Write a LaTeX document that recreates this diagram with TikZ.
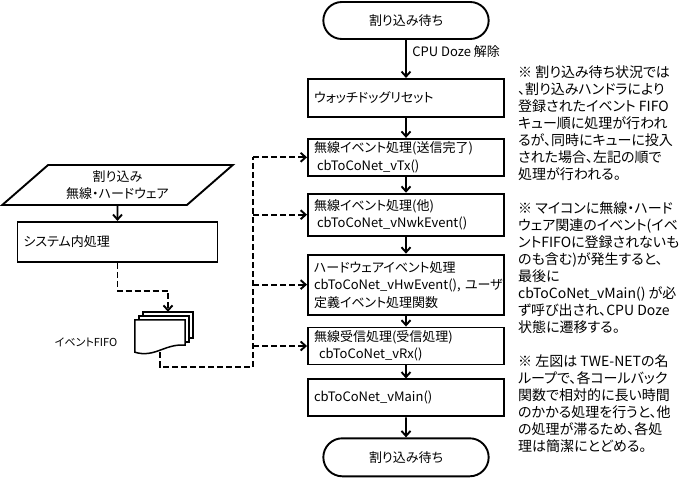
\documentclass[tikz,border=0pt]{standalone}
\usepackage{fontspec}
\setmainfont{Noto Sans CJK JP}[RawFeature=+palt]
\usetikzlibrary{shapes.geometric, shapes.misc, arrows.meta, positioning, calc}

\begin{document}
\begin{tikzpicture}[x=1pt, y=-1pt,
    font=\fontsize{13}{17.5}\selectfont,
    box/.style={rectangle, draw, line width=1.9pt,
                minimum width=196pt, text width=184pt,
                inner xsep=6pt, inner ysep=2pt, align=left},
    term/.style={rounded rectangle, draw, line width=1.9pt,
                minimum width=172pt, minimum height=37pt},
    iobox/.style={trapezium, trapezium left angle=41, trapezium right angle=139,
                trapezium stretches=true, draw, line width=1.9pt,
                minimum width=231pt, minimum height=40pt, inner sep=0pt, align=center},
    sheet/.style={draw, fill=white, line width=1.5pt},
    arrow/.style={-{Straight Barb[length=5pt, width=9pt]}, line width=1.9pt},
    dashline/.style={line width=1.9pt, dash pattern=on 6pt off 3pt},
    dasharrow/.style={dashline, -{Straight Barb[length=5pt, width=9pt]}}
]
\useasboundingbox (0,0) rectangle (693,479);

% main loop
\node[term] (start) at (406,20.5) {割り込み待ち};
\node[box, minimum height=38pt, below=38pt of start] (wdt) {ウォッチドッグリセット};
\node[box, minimum height=37pt, below=20pt of wdt] (tx)
    {無線イベント処理(送信完了)\\\hspace*{3pt}cbToCoNet\_vTx()};
\node[box, minimum height=42pt, below=16pt of tx] (nwk)
    {無線イベント処理(他)\\\hspace*{3pt}cbToCoNet\_vNwkEvent()};
\node[box, minimum height=60pt, below=17pt of nwk] (hw)
    {ハードウェアイベント処理\\cbToCoNet\_vHwEvent(),~ユーザ\\定義イベント処理関数};
\node[box, minimum height=37pt, below=11pt of hw] (rx)
    {無線受信処理(受信処理)\\\hspace*{5pt}cbToCoNet\_vRx()};
\node[box, minimum height=37pt, below=13pt of rx] (vmain) {cbToCoNet\_vMain()};
\node[term, minimum height=38pt, below=20pt of vmain] (stop) {割り込み待ち};

\draw[arrow] (start) -- node[pos=0.3, right=2pt]{CPU Doze 解除} (wdt);
\draw[arrow] (wdt) -- (tx);
\draw[arrow] (tx) -- (nwk);
\draw[arrow] (nwk) -- (hw);
\draw[arrow] (hw) -- (rx);
\draw[arrow] (rx) -- (vmain);
\draw[arrow] (vmain) -- (stop);

% interrupt side
\node[iobox] (intr) at (117.5,185) {割り込み\\無線・ハードウェア};
\node[box, minimum width=200pt, text width=188pt, minimum height=40pt,
      below=15pt of intr] (sys) {システム内処理};
\draw[arrow] (intr) -- (sys);

% event FIFO
\node[minimum width=50pt, minimum height=32pt, inner sep=0pt] (fifo) at (160,336) {};
\foreach \d in {8,4}
  \draw[sheet] ($(fifo.north west)+(\d,-\d)$) rectangle ($(fifo.south east)+(\d,-\d-6)$);
\draw[sheet] (fifo.north west) -- (fifo.north east) -- ($(fifo.south east)+(0,-7)$)
    .. controls ++(-20,-2) and ++(20,6) .. (fifo.south west) -- cycle;
\node[left=14pt of fifo, yshift=-6pt, font=\fontsize{11}{13}\selectfont] (fifolbl) {イベントFIFO};
\coordinate (fifoin) at ($(fifo.north)+(8,-8)$);
\coordinate (bus) at (253,367);

\draw[dasharrow] (sys.south) -- ++(0,28) -| (fifoin);
\draw[dashline] (fifo.south) |- (bus) -- (bus |- tx.west);
\foreach \n in {tx, nwk, hw, rx}
  \draw[dasharrow] (bus |- \n.west) -- (\n.west);

% notes
\node[anchor=north west, align=left, inner sep=0pt,
      font=\fontsize{14}{17}\selectfont] (note) at (518,66)
{※ 割り込み待ち状況では\\
、割り込みハンドラにより\\
登録されたイベント FIFO\\
キュー順に処理が行われ\\
るが、同時にキューに投入\\
された場合、左記の順で\\
処理が行われる。\\[17pt]
※ マイコンに無線・ハード\\
ウェア関連のイベント(イベ\\
ントFIFOに登録されないも\\
のも含む)が発生すると、\\
最後に\\
cbToCoNet\_vMain() が必\\
ず呼び出され、CPU Doze\\
状態に遷移する。\\[17pt]
※ 左図は TWE-NETの名\\
ループで、各コールバック\\
関数で相対的に長い時間\\
のかかる処理を行うと、他\\
の処理が滞るため、各処\\
理は簡潔にとどめる。};
\end{tikzpicture}
\end{document}
